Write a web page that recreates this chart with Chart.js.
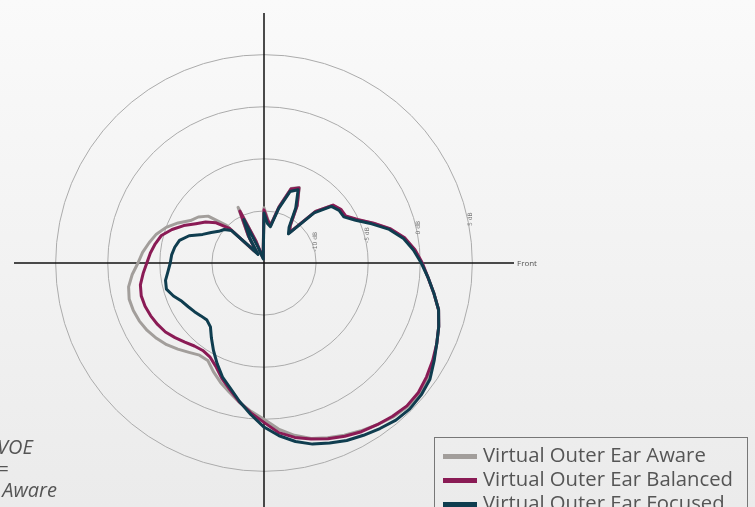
<!DOCTYPE html>
<html><head><meta charset="utf-8">
<script src="https://cdn.jsdelivr.net/npm/chart.js@4"></script>
<style>
html,body{margin:0;padding:0;width:755px;height:507px;overflow:hidden;}
body{background:linear-gradient(#fafafa,#ebebeb);position:relative;font-family:"Open Sans",sans-serif;}
#wrap{position:absolute;left:0;top:0;width:755px;height:530px;}
#note{position:absolute;left:-3px;top:436px;font-style:italic;font-size:20px;line-height:21.5px;color:#555;white-space:pre;}
#legend{position:absolute;left:434px;top:437px;width:314px;height:90px;border:1px solid #777;box-sizing:border-box;}
.row{position:absolute;left:0;height:24px;width:100%;}
.sw{position:absolute;left:8px;top:10px;width:34px;height:5px;}
.tx{position:absolute;left:48px;top:-2px;font-size:20.3px;line-height:24px;color:#555;white-space:nowrap;}
</style></head>
<body>
<div id="wrap"><canvas id="c"></canvas></div>
<div id="note">VOE
=
 Aware</div>
<div id="legend"></div>
<script>
// angles in degrees, counter-clockwise from Front (right)
const angles = [0,5,10,15,20,25,30,35,40,45,50,55,60,65,70,75,80,85,90,95,100,105,110,115,120,125,130,135,140,145,150,155,160,165,170,175,180,185,190,195,200,205,210,215,220,225,230,235,240,245,250,255,260,265,270,275,280,285,290,295,300,305,310,315,320,325,330,335,340,345,350,355];
const seriesNames = ["Virtual Outer Ear Aware","Virtual Outer Ear Balanced","Virtual Outer Ear Focused"];
const seriesColors = ["#a29e9b","#8a1b55","#0f3d4f"];
const aware = [0.15,-0.5,-1.3,-2.45,-3.85,-5.15,-6.0,-6.05,-6.4,-8.0,-11.2,-10.6,-8.6,-7.0,-7.4,-9.4,-11.3,-10.8,-9.7,-14.0,-14.5,-14.3,-12.8,-9.1,-12.0,-13.8,-13.5,-9.9,-8.0,-7.3,-6.85,-5.9,-5.0,-4.3,-3.8,-3.3,-2.9,-2.3,-1.8,-1.6,-1.65,-1.8,-2.05,-2.4,-2.8,-3.3,-3.8,-4.2,-4.2,-3.5,-2.8,-2.15,-1.4,-0.7,0.0,1.0,1.8,2.45,2.85,3.25,3.6,3.95,4.3,4.5,4.55,4.3,3.8,3.3,2.85,2.35,1.55,0.8];
const balanced = [0.2,-0.45,-1.25,-2.4,-3.8,-5.1,-5.95,-6.0,-6.35,-8.0,-11.2,-10.6,-8.65,-7.05,-7.45,-9.45,-11.3,-10.9,-9.9,-14.1,-14.5,-14.3,-12.8,-9.5,-12.0,-13.8,-13.3,-10.3,-9.0,-8.15,-7.45,-6.5,-5.6,-4.8,-4.4,-4.05,-3.75,-3.35,-2.95,-2.8,-2.85,-3.0,-3.2,-3.45,-3.85,-4.25,-4.6,-4.75,-4.6,-4.05,-3.2,-2.4,-1.45,-0.55,0.3,1.35,2.0,2.5,2.95,3.35,3.7,3.95,4.2,4.4,4.35,4.05,3.7,3.3,2.85,2.35,1.55,0.8];
const focused = [0.1,-0.6,-1.4,-2.55,-4.0,-5.3,-6.15,-6.2,-6.55,-8.2,-11.35,-10.8,-8.9,-7.25,-7.7,-9.6,-11.45,-11.2,-10.2,-14.2,-14.6,-14.4,-13.5,-10.4,-12.2,-14.0,-13.2,-10.6,-10.0,-9.7,-9.15,-8.5,-7.35,-6.6,-6.3,-6.1,-6.0,-5.75,-5.4,-5.3,-5.75,-6.3,-6.6,-6.85,-7.1,-7.25,-7.0,-6.2,-5.3,-4.35,-3.35,-2.55,-1.5,-0.4,0.75,1.65,2.4,3.0,3.4,3.8,4.1,4.4,4.7,4.8,4.7,4.45,3.85,3.3,2.85,2.35,1.55,0.8];
const ringValues = [-10,-5,0,5];
const ringLabels = ["-10 dB","-5 dB","0 dB","5 dB"];
const frontLabel = "Front";
const axisAngles = [0,90,180,270];

// Chart.js radar runs clockwise; map CCW tables onto it
const N = angles.length;
const cw = arr => arr.map((_, i) => arr[(N - i) % N]);
const labels = cw(angles);

const legend = document.getElementById('legend');
seriesNames.forEach((n, k) => {
  const row = document.createElement('div');
  row.className = 'row'; row.style.top = (6 + 24 * k) + 'px';
  row.innerHTML = '<div class="sw" style="background:' + seriesColors[k] + '"></div><div class="tx">' + n + '</div>';
  legend.appendChild(row);
});

const labelPlugin = {
  id: 'polarLabels',
  beforeDatasetsDraw(chart) {
    const s = chart.scales.r;
    const ctx = chart.ctx;
    ctx.save();
    ctx.fillStyle = '#777';
    ctx.font = '6px "DejaVu Sans", sans-serif';
    ringValues.forEach((v, k) => {
      const r = s.getDistanceFromCenterForValue(v);
      const text = ringLabels[k];
      const bottom = 3 + 0.163 * r;
      const x = s.xCenter + r * 0.99;
      ctx.save();
      ctx.translate(x, s.yCenter - bottom);
      ctx.rotate(-Math.PI / 2);
      ctx.textAlign = 'left';
      ctx.textBaseline = 'middle';
      ctx.fillText(text, 0, 0);
      ctx.restore();
    });
    const p = s.getPointPositionForValue(0, s.max);
    ctx.font = '8px "Open Sans", sans-serif';
    ctx.fillStyle = '#555';
    ctx.textAlign = 'left';
    ctx.textBaseline = 'middle';
    ctx.fillText(frontLabel, p.x + 3, p.y + 1);
    ctx.restore();
  }
};

const mk = (k, arr, order) => ({
  label: seriesNames[k], data: cw(arr), borderColor: seriesColors[k], backgroundColor: 'transparent',
  borderWidth: 3, pointRadius: 0, pointHoverRadius: 0, fill: false, tension: 0,
  borderJoinStyle: 'round', borderCapStyle: 'round', order: order
});

new Chart(document.getElementById('c'), {
  type: 'radar',
  data: { labels: labels, datasets: [mk(0, aware, 2), mk(1, balanced, 1), mk(2, focused, 0)] },
  options: {
    responsive: true, maintainAspectRatio: false, animation: false,
    layout: { padding: { left: 14, right: 241, top: 13, bottom: 17 } },
    plugins: { legend: { display: false }, tooltip: { enabled: false } },
    elements: { line: { tension: 0 } },
    scales: {
      r: {
        min: -15, max: 9, beginAtZero: false, startAngle: 90,
        ticks: { display: false, stepSize: 5 },
        pointLabels: { display: false },
        grid: { circular: true, lineWidth: 1,
          color: c => (c.tick && ringValues.includes(c.tick.value)) ? '#ababab' : 'rgba(0,0,0,0)' },
        angleLines: { display: true,
          color: c => axisAngles.includes(labels[c.index]) ? '#111' : 'rgba(0,0,0,0)',
          lineWidth: c => axisAngles.includes(labels[c.index]) ? 1.5 : 0 }
      }
    }
  },
  plugins: [labelPlugin]
});
</script>
</body></html>
